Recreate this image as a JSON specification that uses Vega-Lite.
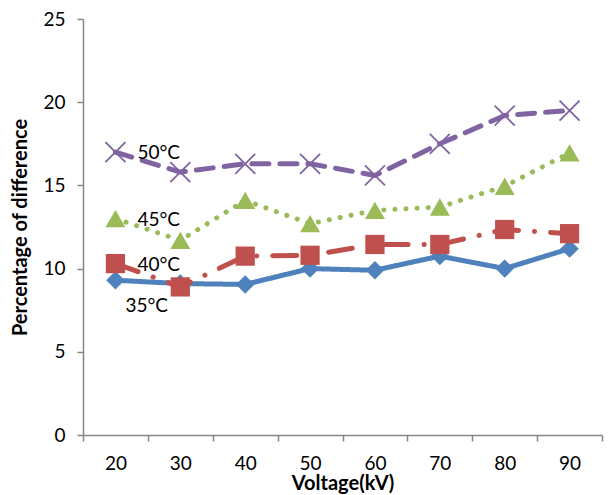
{
  "$schema": "https://vega.github.io/schema/vega-lite/v6.json",
  "width": 519,
  "height": 416,
  "autosize": "none",
  "padding": {"left": 83, "top": 19, "right": 6, "bottom": 60},
  "background": "white",
  "config": {
    "view": {"stroke": null},
    "font": "Lato",
    "axis": {"labelFont": "Lato", "titleFont": "Lato", "labelColor": "#000", "titleColor": "#000", "grid": false}
  },
  "data": {
    "values": [
      {"voltage": 20, "temp": "35°C", "value": 9.3},
      {"voltage": 30, "temp": "35°C", "value": 9.1},
      {"voltage": 40, "temp": "35°C", "value": 9.05},
      {"voltage": 50, "temp": "35°C", "value": 10.0},
      {"voltage": 60, "temp": "35°C", "value": 9.9},
      {"voltage": 70, "temp": "35°C", "value": 10.75},
      {"voltage": 80, "temp": "35°C", "value": 10.0},
      {"voltage": 90, "temp": "35°C", "value": 11.2},
      {"voltage": 20, "temp": "40°C", "value": 10.3},
      {"voltage": 30, "temp": "40°C", "value": 8.9},
      {"voltage": 40, "temp": "40°C", "value": 10.75},
      {"voltage": 50, "temp": "40°C", "value": 10.8},
      {"voltage": 60, "temp": "40°C", "value": 11.45},
      {"voltage": 70, "temp": "40°C", "value": 11.45},
      {"voltage": 80, "temp": "40°C", "value": 12.35},
      {"voltage": 90, "temp": "40°C", "value": 12.1},
      {"voltage": 20, "temp": "45°C", "value": 13.0},
      {"voltage": 30, "temp": "45°C", "value": 11.7},
      {"voltage": 40, "temp": "45°C", "value": 14.1},
      {"voltage": 50, "temp": "45°C", "value": 12.7},
      {"voltage": 60, "temp": "45°C", "value": 13.5},
      {"voltage": 70, "temp": "45°C", "value": 13.7},
      {"voltage": 80, "temp": "45°C", "value": 14.95},
      {"voltage": 90, "temp": "45°C", "value": 16.95},
      {"voltage": 20, "temp": "50°C", "value": 17.0},
      {"voltage": 30, "temp": "50°C", "value": 15.8},
      {"voltage": 40, "temp": "50°C", "value": 16.3},
      {"voltage": 50, "temp": "50°C", "value": 16.3},
      {"voltage": 60, "temp": "50°C", "value": 15.6},
      {"voltage": 70, "temp": "50°C", "value": 17.5},
      {"voltage": 80, "temp": "50°C", "value": 19.2},
      {"voltage": 90, "temp": "50°C", "value": 19.5}
    ]
  },
  "encoding": {
    "x": {
      "field": "voltage", "type": "ordinal",
      "scale": {"type": "band", "paddingInner": 0, "paddingOuter": 0},
      "axis": {
        "title": "Voltage(kV)", "titleFontSize": 20, "titleFontWeight": "bold", "titlePadding": 0,
        "labelAngle": 0, "labelFontSize": 19, "labelPadding": 13,
        "domainColor": "#868686", "tickColor": "#868686", "tickSize": 6, "domainWidth": 1.5, "tickWidth": 1.5,
        "tickBand": "extent"
      }
    },
    "y": {
      "field": "value", "type": "quantitative",
      "scale": {"domain": [0, 25]},
      "axis": {
        "title": "Percentage of difference", "titleFontSize": 20, "titleFontWeight": "bold", "titlePadding": 12,
        "values": [0, 5, 10, 15, 20, 25], "labelFontSize": 19, "labelPadding": 12,
        "domainColor": "#868686", "tickColor": "#868686", "tickSize": 6, "domainWidth": 1.5, "tickWidth": 1.5
      }
    }
  },
  "layer": [
    {
      "mark": {"type": "line", "strokeWidth": 5, "strokeCap": "round", "strokeJoin": "round"},
      "encoding": {
        "color": {"field": "temp", "type": "nominal", "legend": null,
          "scale": {"domain": ["35°C", "40°C", "45°C", "50°C"], "range": ["#4F81BD", "#C0504D", "#9BBB59", "#8064A2"]}},
        "strokeDash": {"field": "temp", "type": "nominal", "legend": null,
          "scale": {"domain": ["35°C", "40°C", "45°C", "50°C"], "range": [[1, 0], [24, 16, 0.1, 16], [0.1, 11], [17, 11]]}}
      }
    },
    {
      "transform": [{"filter": "datum.temp !== '50°C'"}],
      "mark": {"type": "point", "filled": true, "opacity": 1},
      "encoding": {
        "color": {"field": "temp", "type": "nominal", "legend": null,
          "scale": {"domain": ["35°C", "40°C", "45°C", "50°C"], "range": ["#4F81BD", "#C0504D", "#9BBB59", "#8064A2"]}},
        "shape": {"field": "temp", "type": "nominal", "legend": null,
          "scale": {"domain": ["35°C", "40°C", "45°C"], "range": ["diamond", "square", "triangle-up"]}},
        "size": {"field": "temp", "type": "nominal", "legend": null,
          "scale": {"domain": ["35°C", "40°C", "45°C"], "range": [340, 400, 420]}}
      }
    },
    {
      "transform": [{"filter": "datum.temp === '50°C'"}],
      "mark": {"type": "point", "filled": false, "shape": "M-1,-1L1,1M1,-1L-1,1", "size": 400, "stroke": "#8064A2", "strokeWidth": 1.8, "opacity": 1},
      "encoding": {}
    },
    {
      "transform": [{"filter": "datum.voltage === 20 && datum.temp !== '35°C'"}],
      "mark": {"type": "text", "align": "left", "baseline": "middle", "dx": 22, "dy": 1, "fontSize": 19, "font": "Lato", "color": "#000"},
      "encoding": {"text": {"field": "temp"}}
    },
    {
      "transform": [{"filter": "datum.voltage === 20 && datum.temp === '35°C'"}],
      "mark": {"type": "text", "align": "left", "baseline": "middle", "dx": 10, "dy": 26, "fontSize": 19, "font": "Lato", "color": "#000"},
      "encoding": {"text": {"field": "temp"}}
    }
  ]
}
